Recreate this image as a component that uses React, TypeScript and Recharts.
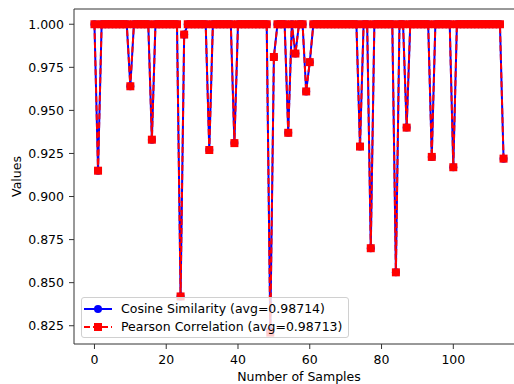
import { Legend, Line, LineChart, ReferenceLine, XAxis, YAxis } from 'recharts';

const FONT = '"DejaVu Sans", sans-serif';
const FONT_SIZE = 12.5;
const BLUE = '#0000ff';
const RED = '#ff0000';
const SPINE = '#333333';

// cosine similarity per sample (index 0..114)
const cosineValues = [
  1, 0.915, 1, 1, 1, 1, 1, 1, 1, 1,
  0.964, 1, 1, 1, 1, 1, 0.933, 1, 1, 1,
  1, 1, 1, 1, 0.842, 0.994, 1, 1, 1, 1,
  1, 1, 0.927, 1, 1, 1, 1, 1, 1, 0.931,
  1, 1, 1, 1, 1, 1, 1, 1, 1, 0.822,
  0.981, 1, 1, 1, 0.937, 1, 0.983, 1, 1, 0.961,
  0.978, 1, 1, 1, 1, 1, 1, 1, 1, 1,
  1, 1, 1, 1, 0.929, 1, 1, 0.87, 1, 1,
  1, 1, 1, 1, 0.856, 1, 1, 0.94, 1, 1,
  1, 1, 1, 1, 0.923, 1, 1, 1, 1, 1,
  0.917, 1, 1, 1, 1, 1, 1, 1, 1, 1,
  1, 1, 1, 1, 0.922,
];

// pearson correlation per sample
const pearsonValues = [
  1, 0.915, 1, 1, 1, 1, 1, 1, 1, 1,
  0.964, 1, 1, 1, 1, 1, 0.933, 1, 1, 1,
  1, 1, 1, 1, 0.842, 0.994, 1, 1, 1, 1,
  1, 1, 0.927, 1, 1, 1, 1, 1, 1, 0.931,
  1, 1, 1, 1, 1, 1, 1, 1, 1, 0.821,
  0.981, 1, 1, 1, 0.937, 1, 0.983, 1, 1, 0.961,
  0.978, 1, 1, 1, 1, 1, 1, 1, 1, 1,
  1, 1, 1, 1, 0.929, 1, 1, 0.87, 1, 1,
  1, 1, 1, 1, 0.856, 1, 1, 0.94, 1, 1,
  1, 1, 1, 1, 0.923, 1, 1, 1, 1, 1,
  0.917, 1, 1, 1, 1, 1, 1, 1, 1, 1,
  1, 1, 1, 1, 0.922,
];

const xTicks = [0, 20, 40, 60, 80, 100];
const yTicks = [0.825, 0.85, 0.875, 0.9, 0.925, 0.95, 0.975, 1.0];
const xDomain = [-5.7, 119.7];
const yDomain = [0.8144, 1.00885];

const seriesLabels = {
  cosine: 'Cosine Similarity (avg=0.98714)',
  pearson: 'Pearson Correlation (avg=0.98713)',
};

const data = cosineValues.map((v, i) => ({ sample: i, cosine: v, pearson: pearsonValues[i] }));

const tickStyle = { fill: '#000', fontSize: FONT_SIZE, fontFamily: FONT };

function CircleDot(props: any) {
  const { cx, cy } = props;
  if (cx == null || cy == null) return null;
  return <circle cx={cx} cy={cy} r={4} fill={BLUE} />;
}

function SquareDot(props: any) {
  const { cx, cy } = props;
  if (cx == null || cy == null) return null;
  return <rect x={cx - 4} y={cy - 4} width={8} height={8} fill={RED} />;
}

function LegendBox() {
  const row = (label: string, color: string, dashed: boolean, square: boolean, top: number) => (
    <div style={{ position: 'absolute', left: 0, top, height: 18, width: '100%' }}>
      <svg width={32} height={18} style={{ position: 'absolute', left: 2, top: 0 }}>
        <line x1={0} y1={9} x2={28} y2={9} stroke={color} strokeWidth={2} strokeDasharray={dashed ? '6 3' : undefined} />
        {square ? <rect x={10} y={5} width={8} height={8} fill={color} /> : <circle cx={14} cy={9} r={4} fill={color} />}
      </svg>
      <span style={{ position: 'absolute', left: 39, top: 0, lineHeight: '18px', fontSize: FONT_SIZE, fontFamily: FONT, color: '#000', whiteSpace: 'nowrap' }}>
        {label}
      </span>
    </div>
  );
  return (
    <div
      style={{
        position: 'relative',
        boxSizing: 'border-box',
        width: 268,
        height: 41,
        border: '1px solid #d0d0d0',
        borderRadius: 3,
        background: 'rgba(255,255,255,0.8)',
      }}
    >
      {row(seriesLabels.cosine, BLUE, false, false, 2)}
      {row(seriesLabels.pearson, RED, true, true, 20)}
    </div>
  );
}

export default function App() {
  return (
    <div style={{ position: 'fixed', left: 0, top: 0, width: 514, height: 384, overflow: 'hidden', background: '#fff' }}>
      <LineChart width={530} height={384} data={data} margin={{ top: 9, right: 6, bottom: 0, left: 0 }}>
        <XAxis
          dataKey="sample"
          type="number"
          domain={xDomain}
          ticks={xTicks}
          allowDataOverflow
          height={40}
          stroke={SPINE}
          tickSize={5}
          tickMargin={6}
          tick={tickStyle}
          label={{ value: 'Number of Samples', position: 'insideBottom', offset: 3, fill: '#000', fontSize: FONT_SIZE, fontFamily: FONT }}
        />
        <YAxis
          type="number"
          domain={yDomain}
          ticks={yTicks}
          allowDataOverflow
          width={74}
          stroke={SPINE}
          tickSize={5}
          tickMargin={5}
          tick={tickStyle}
          tickFormatter={(v: number) => v.toFixed(3)}
          label={{
            content: (p: any) => {
              const vb = p.viewBox || { x: 0, y: 9, width: 74, height: 335 };
              const cx = vb.x + 16.5;
              const cy = vb.y + vb.height / 2;
              return (
                <text x={cx} y={cy} transform={`rotate(-90 ${cx} ${cy})`} textAnchor="middle" dominantBaseline="central" fill="#000" fontSize={FONT_SIZE} fontFamily={FONT}>
                  Values
                </text>
              );
            },
          }}
        />
        {/* top and right frame of the axes box */}
        <ReferenceLine y={yDomain[1]} stroke={SPINE} strokeWidth={1} ifOverflow="visible" />
        <ReferenceLine x={xDomain[1]} stroke={SPINE} strokeWidth={1} ifOverflow="visible" />
        <Line
          type="linear"
          dataKey="cosine"
          stroke={BLUE}
          strokeWidth={2}
          dot={<CircleDot />}
          activeDot={false}
          isAnimationActive={false}
        />
        <Line
          type="linear"
          dataKey="pearson"
          stroke={RED}
          strokeWidth={2}
          strokeDasharray="6 3"
          dot={<SquareDot />}
          activeDot={false}
          isAnimationActive={false}
        />
        <Legend
          layout="vertical"
          align="center"
          verticalAlign="middle"
          content={() => <LegendBox />}
          wrapperStyle={{ left: 81, top: 297, width: 268, height: 41 }}
        />
      </LineChart>
    </div>
  );
}
